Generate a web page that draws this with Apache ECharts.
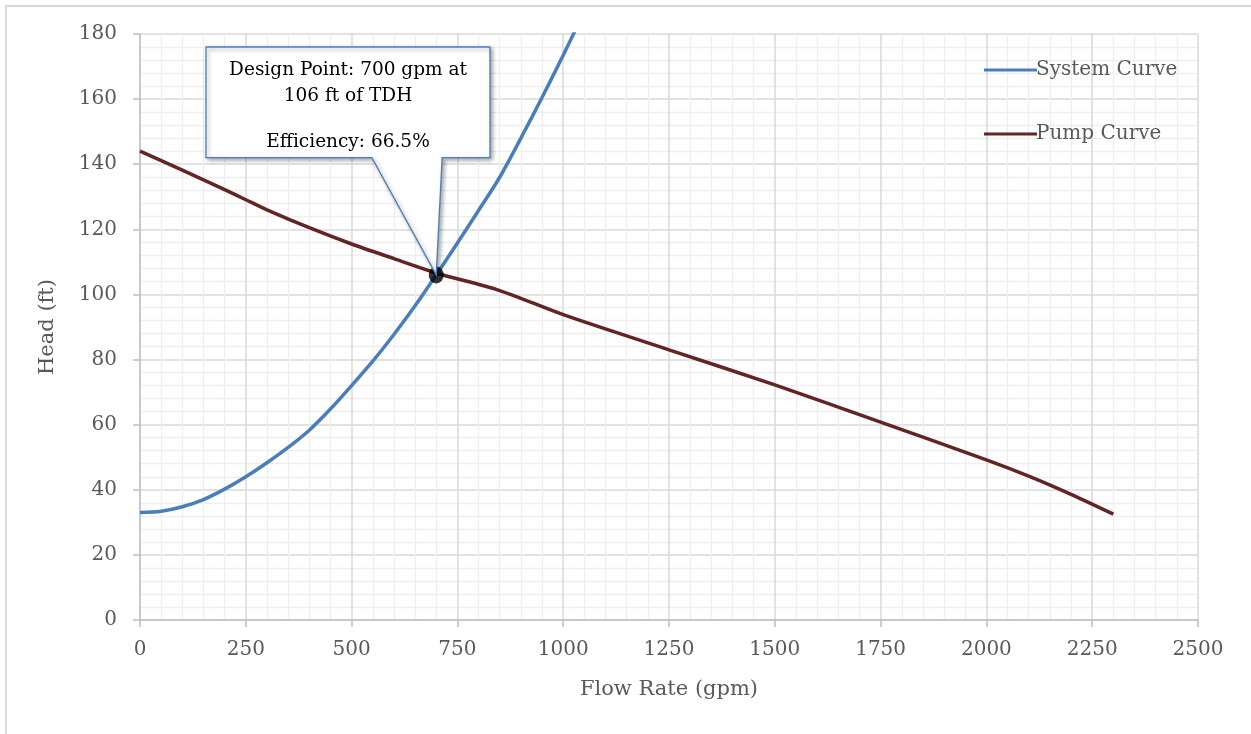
<!DOCTYPE html>
<html>
<head>
<meta charset="utf-8">
<script src="https://cdn.jsdelivr.net/npm/echarts@6/dist/echarts.min.js"></script>
<style>
  html, body { margin: 0; padding: 0; background: #fff; }
  #frame { position: absolute; left: 5px; top: 5px; width: 1246px; height: 729px;
           border-left: 2px solid #d9d9d9; border-top: 2px solid #d9d9d9; box-sizing: border-box; }
  #chart { position: absolute; left: 0; top: 0; width: 1251px; height: 734px; }
</style>
</head>
<body>
<div id="frame"></div>
<div id="chart"></div>
<script>
// ---- Data ----
const xTicks = [0, 250, 500, 750, 1000, 1250, 1500, 1750, 2000, 2250, 2500];
const yTicks = [0, 20, 40, 60, 80, 100, 120, 140, 160, 180];

const systemFlow = [0, 50, 100, 150, 200, 250, 300, 350, 400, 450, 500, 550, 600, 650, 700, 750, 800, 850, 900, 950, 1000, 1050];
const systemHead = [33, 33.4, 34.8, 37, 40.2, 44, 48.3, 53, 58.3, 64.8, 72, 79.5, 87.7, 96.5, 106, 115.8, 125.8, 136, 148, 160.5, 173.5, 187];

const pumpFlow = [0, 100, 200, 250, 300, 400, 500, 600, 700, 850, 1000, 1250, 1500, 1750, 2000, 2100, 2200, 2300];
const pumpHead = [144, 138.2, 132.2, 129.1, 126, 120.5, 115.5, 111, 106.6, 101.2, 93.8, 83, 72.2, 60.8, 49.2, 44.2, 38.6, 32.5];

const designPoint = [700, 106];
const calloutLines = ['Design Point: 700 gpm at', '106 ft of TDH', '', 'Efficiency: 66.5%'];

const seriesNames = ['System Curve', 'Pump Curve'];

// annotation anchors in data coordinates
const calloutAnchor = { x0: 156, x1: 827, yTop: 176, yBottom: 142, baseL: 548, baseR: 714 };

const zip = (xs, ys) => xs.map((x, i) => [x, ys[i]]);
const FONT = '"DejaVu Serif", "Liberation Serif", serif';
const LABEL = '#595959';

const chart = echarts.init(document.getElementById('chart'), null, { renderer: 'canvas' });

chart.setOption({
  animation: false,
  backgroundColor: 'transparent',
  grid: { left: 140, right: 53, top: 34, bottom: 114, containLabel: false },
  legend: {
    orient: 'vertical', left: 979, top: 55, itemGap: 44,
    itemWidth: 53, itemHeight: 14,
    data: seriesNames,
    textStyle: { fontFamily: FONT, fontSize: 20, color: LABEL, padding: [0, 0, 0, -6] },
    icon: 'path://M0,6 L53,6 L53,9 L0,9 Z'
  },
  xAxis: {
    type: 'value', min: 0, max: 2500, interval: 250,
    name: 'Flow Rate (gpm)', nameLocation: 'middle', nameGap: 59,
    nameTextStyle: { fontFamily: FONT, fontSize: 21, color: LABEL },
    axisLine: { show: true, lineStyle: { color: '#bfbfbf', width: 1.5 } },
    axisTick: { show: true, length: 7, lineStyle: { color: '#bfbfbf', width: 1.5 } },
    axisLabel: { fontFamily: FONT, fontSize: 20, color: LABEL, margin: 20,
                 formatter: v => xTicks.includes(v) ? String(v) : '' },
    splitLine: { show: true, lineStyle: { color: '#d9d9d9', width: 1.5 } },
    minorTick: { show: false, splitNumber: 5 },
    minorSplitLine: { show: true, lineStyle: { color: '#eeeeee', width: 1.3 } }
  },
  yAxis: {
    type: 'value', min: 0, max: 180, interval: 20,
    name: 'Head (ft)', nameLocation: 'middle', nameGap: 82,
    nameTextStyle: { fontFamily: FONT, fontSize: 21, color: LABEL },
    axisLine: { show: true, lineStyle: { color: '#bfbfbf', width: 1.5 } },
    axisTick: { show: true, length: 7, lineStyle: { color: '#bfbfbf', width: 1.5 } },
    axisLabel: { fontFamily: FONT, fontSize: 20, color: LABEL, margin: 23,
                 formatter: v => yTicks.includes(v) ? String(v) : '' },
    splitLine: { show: true, lineStyle: { color: '#d9d9d9', width: 1.5 } },
    minorTick: { show: false, splitNumber: 5 },
    minorSplitLine: { show: true, lineStyle: { color: '#eeeeee', width: 1.3 } }
  },
  series: [
    {
      name: seriesNames[0], type: 'line', data: zip(systemFlow, systemHead),
      smooth: 0.3, showSymbol: false, clip: true, z: 3,
      lineStyle: { color: '#4a7ebb', width: 3.5 }, itemStyle: { color: '#4a7ebb' }
    },
    {
      name: seriesNames[1], type: 'line', data: zip(pumpFlow, pumpHead),
      smooth: 0.3, showSymbol: false, clip: true, z: 2,
      lineStyle: { color: '#632523', width: 3.5 }, itemStyle: { color: '#632523' }
    },
    {
      name: 'Design Point', type: 'scatter', data: [designPoint],
      symbol: 'circle', symbolSize: [15, 17], z: 5,
      itemStyle: { color: '#000' }
    }
  ]
});

// ---- callout (positioned through the chart's own coordinate system) ----
const px = (x, y) => chart.convertToPixel({ gridIndex: 0 }, [x, y]);
const a = calloutAnchor;
const tl = px(a.x0, a.yTop), tr = px(a.x1, a.yTop);
const br = px(a.x1, a.yBottom), bl = px(a.x0, a.yBottom);
const bL = px(a.baseL, a.yBottom), bR = px(a.baseR, a.yBottom);
const tip = px(designPoint[0], designPoint[1]);
const cx = (tl[0] + tr[0]) / 2;
const lineYs = [23, 49, 72, 95];

chart.setOption({
  graphic: [
    {
      type: 'polygon', z: 100,
      shape: { points: [tl, tr, br, bR, tip, bL, bl] },
      style: { fill: '#ffffff', stroke: '#4a7ebb', lineWidth: 1.3,
               shadowBlur: 4, shadowOffsetX: 2, shadowOffsetY: 2, shadowColor: 'rgba(0,0,0,0.35)' }
    },
    ...calloutLines.map((t, i) => ({
      type: 'text', z: 101,
      x: cx, y: tl[1] + lineYs[i],
      style: { text: t, fontFamily: FONT, fontSize: 18.5, fill: '#000',
               align: 'center', verticalAlign: 'middle' }
    }))
  ]
});
</script>
</body>
</html>
